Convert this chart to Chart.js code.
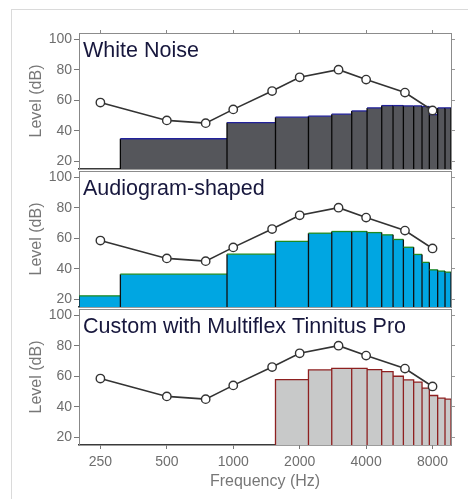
<!DOCTYPE html>
<html>
<head>
<meta charset="utf-8">
<script src="https://cdn.jsdelivr.net/npm/chart.js@4.4.1/dist/chart.umd.min.js"></script>
<style>
  body { margin: 0; background: #fff; }
  #wrap { position: relative; width: 468px; height: 499px; overflow: hidden; }
  #frame { position: absolute; left: 11px; top: 9px; width: 470px; height: 500px;
           border-left: 1px solid #dadada; border-top: 1px solid #dadada; }
  canvas { position: absolute; left: 0; top: 0; }
</style>
</head>
<body>
<div id="wrap">
  <div id="frame"></div>
  <canvas id="c1" width="468" height="499"></canvas>
  <canvas id="c2" width="468" height="499"></canvas>
  <canvas id="c3" width="468" height="499"></canvas>
</div>
<script>
// Audiogramm (Linie mit Kreisen), gleich in allen drei Feldern
const audioFreqs = [250, 500, 750, 1000, 1500, 2000, 3000, 4000, 6000, 8000];
const audioLevels = [58.5, 46.8, 45, 54, 66, 75, 80, 73.5, 65, 53.3];

// Kanalgrenzen (Hz) der Balken, 16 Kanaele
const bandEdges = [200, 308, 937, 1554, 2192, 2795, 3442, 4042, 4707, 5300, 5902, 6570, 7170, 7738, 8440, 9112, 9700];

// Pegel je Kanal (dB), null = nicht sichtbar
const whiteNoise = [null, 34.8, 45.4, 48.9, 49.6, 50.9, 53, 55, 56.5, 56.5, 56.3, 56.3, 55.9, 50.6, 55, 55];
const audiogramShaped = [22.3, 36.5, 49.6, 58, 63.3, 64.4, 64.4, 63.7, 62.2, 59.2, 54.1, 49.4, 44.2, 39.3, 38.5, 37.8];
const customTinnitus = [null, null, null, 57.8, 64.1, 65.2, 65.2, 64.3, 63, 60, 57.6, 56.1, 52.2, 47.4, 45.7, 45];

const xTicks = [250, 500, 1000, 2000, 4000, 8000];
const yTicks = [20, 40, 60, 80, 100];

const X_MIN = 200, X_MAX = 9700, Y_MIN = 15, Y_MAX = 104;

// Text im Feld oben links
const panelLabel = {
  id: 'panelLabel',
  afterDatasetsDraw(chart, args, opts) {
    const { ctx, chartArea } = chart;
    ctx.save();
    ctx.font = '21.5px "Liberation Sans", Arial, sans-serif';
    ctx.fillStyle = '#17173d';
    ctx.textBaseline = 'alphabetic';
    ctx.fillText(opts.text, chartArea.left + 4, chartArea.top + 24);
    ctx.restore();
  }
};

// Balken als Rechtecke: links hoch, oben rueber, rechts runter
function bandPoints(levels) {
  const pts = [];
  levels.forEach((v, i) => {
    if (v === null) return;
    const lo = bandEdges[i], hi = bandEdges[i + 1];
    pts.push({ x: lo, y: Y_MIN }, { x: lo, y: v }, { x: hi, y: v }, { x: hi, y: Y_MIN });
  });
  return pts;
}

function makePanel(id, cfg) {
  const ctx = document.getElementById(id).getContext('2d');
  const fixH = h => s => { s.height = h; };
  const fixW = w => s => { s.width = w; };
  const setTicks = list => s => { s.ticks = list.map(v => ({ value: v })); };
  const axisFont = { family: '"Liberation Sans", Arial, sans-serif', size: 14 };
  const titleFont = { family: '"Liberation Sans", Arial, sans-serif', size: 16 };

  return new Chart(ctx, {
    type: 'line',
    data: {
      datasets: [{
        data: audioFreqs.map((f, i) => ({ x: f, y: audioLevels[i] })),
        borderColor: '#333',
        borderWidth: 1.6,
        tension: 0,
        pointRadius: 4.2,
        pointBackgroundColor: '#fff',
        pointBorderColor: '#333',
        pointBorderWidth: 1.4,
        order: 0
      }, {
        data: bandPoints(cfg.levels),
        borderWidth: 1.3,
        pointRadius: 0,
        tension: 0,
        fill: 'start',
        backgroundColor: cfg.fill,
        segment: {
          borderColor: c => c.p0.parsed.x === c.p1.parsed.x ? cfg.edge
            : (c.p0.parsed.y <= Y_MIN ? 'rgba(0,0,0,0)' : cfg.top)
        },
        order: 1
      }]
    },
    options: {
      responsive: false,
      animation: false,
      layout: { padding: 0 },
      plugins: {
        legend: { display: false },
        tooltip: { enabled: false },
        panelLabel: { text: cfg.label }
      },
      scales: {
        x: {
          type: 'logarithmic', position: 'bottom', min: X_MIN, max: X_MAX,
          afterBuildTicks: setTicks(xTicks),
          afterFit: fixH(cfg.bottom),
          grid: { drawOnChartArea: false, drawTicks: cfg.showX, tickLength: 4, color: '#777' },
          border: { color: '#3a3a3a', width: 1.6 },
          ticks: { display: cfg.showX, padding: 5, color: '#6e6e6e', font: axisFont, maxRotation: 0,
                   callback: v => String(v) },
          title: { display: cfg.showX, text: 'Frequency (Hz)', color: '#777', font: titleFont,
                   padding: { top: 0, bottom: 8 } }
        },
        x2: {
          type: 'logarithmic', position: 'top', min: X_MIN, max: X_MAX,
          afterBuildTicks: setTicks(xTicks),
          afterFit: fixH(cfg.topPad),
          grid: { drawOnChartArea: false, drawTicks: cfg.topTicks, tickLength: 3, color: '#888' },
          border: { color: '#8c8c8c', width: 1 },
          ticks: { display: false }
        },
        y: {
          type: 'linear', position: 'left', min: Y_MIN, max: Y_MAX,
          afterBuildTicks: setTicks(yTicks),
          afterFit: fixW(79),
          grid: { drawOnChartArea: false, tickLength: 5, color: '#777' },
          border: { color: '#888', width: 1 },
          ticks: { padding: 2, color: '#6e6e6e', font: axisFont },
          title: { display: true, text: 'Level (dB)', color: '#777', font: titleFont,
                   padding: { top: 27, bottom: 0 } }
        },
        y2: {
          type: 'linear', position: 'right', min: Y_MIN, max: Y_MAX,
          afterBuildTicks: setTicks(yTicks),
          afterFit: fixW(17),
          grid: { drawOnChartArea: false, tickLength: 4, color: '#999' },
          border: { color: '#8c8c8c', width: 1 },
          ticks: { display: false }
        }
      }
    },
    plugins: [panelLabel]
  });
}

makePanel('c1', { label: 'White Noise', levels: whiteNoise, fill: '#55565b', edge: '#050505', top: '#22229a',
                  topPad: 33, bottom: 330, showX: false, topTicks: true });
makePanel('c2', { label: 'Audiogram-shaped', levels: audiogramShaped, fill: '#00a6e2', edge: '#101010', top: '#1f8a1f',
                  topPad: 171, bottom: 192, showX: false, topTicks: false });
makePanel('c3', { label: 'Custom with Multiflex Tinnitus Pro', levels: customTinnitus, fill: '#c8c9c9', edge: '#8e2020', top: '#8e2020',
                  topPad: 309, bottom: 54, showX: true, topTicks: false });
</script>
</body>
</html>
